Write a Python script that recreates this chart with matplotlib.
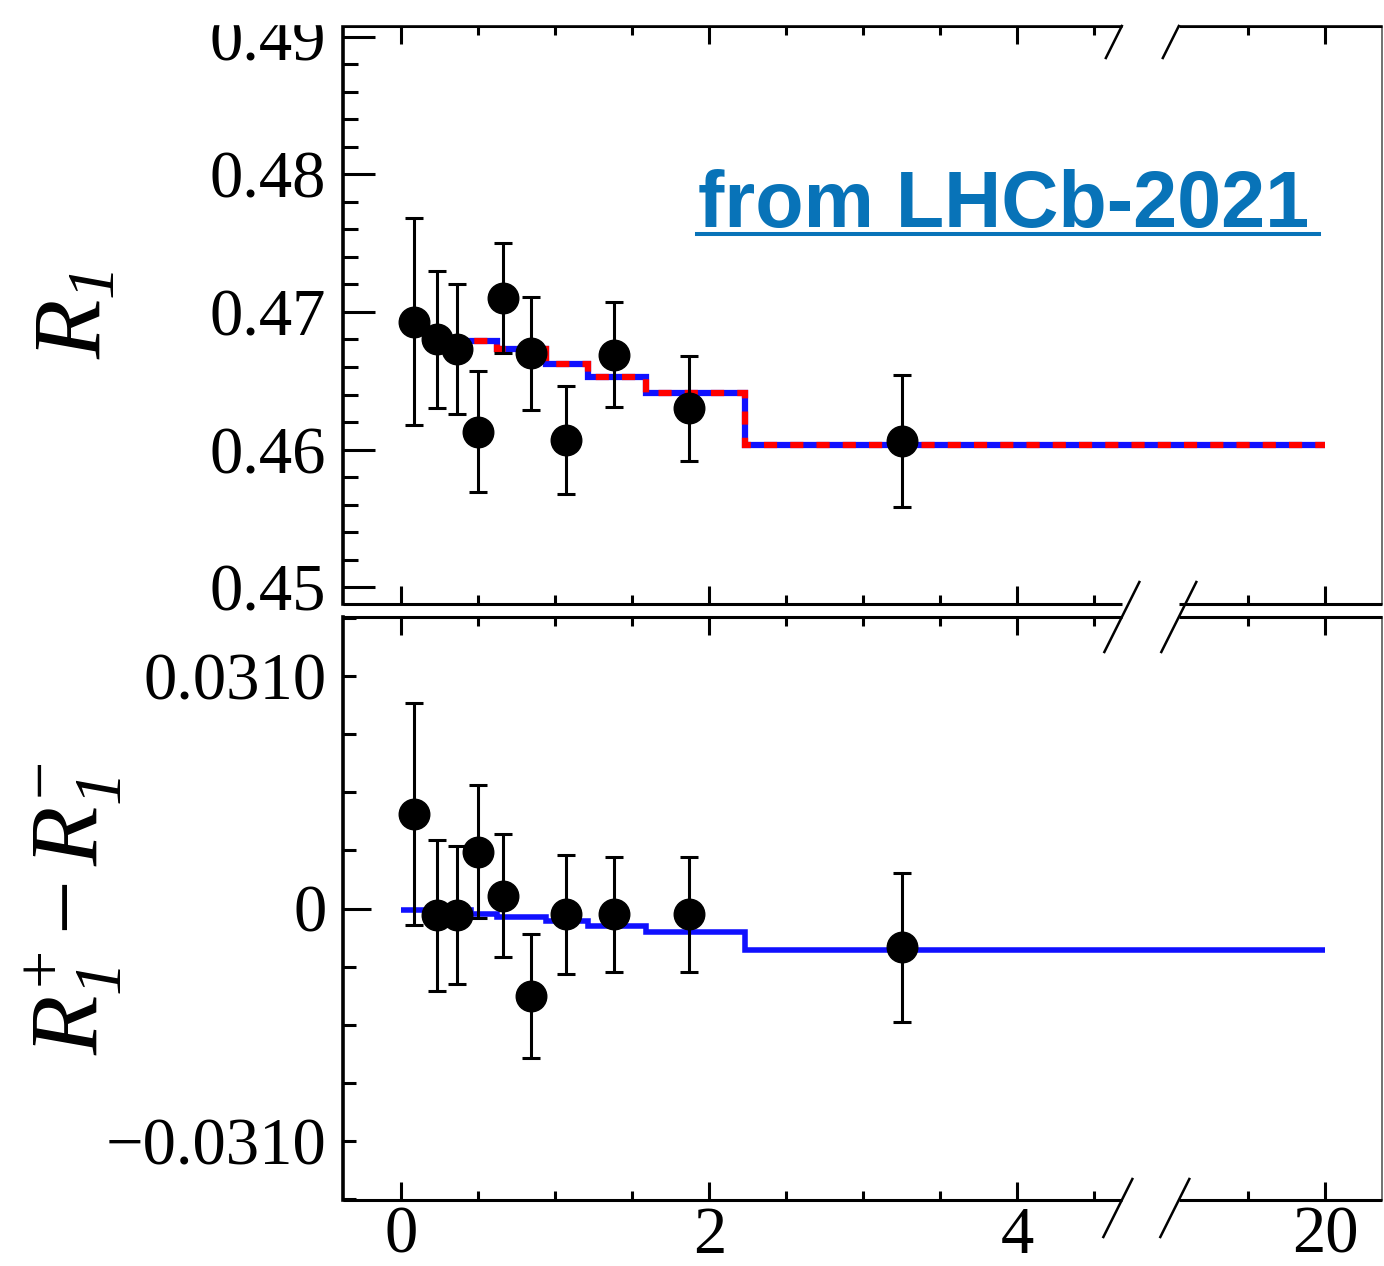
#!/usr/bin/env python
import numpy as np
import matplotlib
matplotlib.use('Agg')
import matplotlib.pyplot as plt
from matplotlib.ticker import FixedLocator, MultipleLocator, FixedFormatter
from matplotlib.lines import Line2D
from matplotlib.patches import Rectangle
from matplotlib.transforms import IdentityTransform

# measured points, q2 bins
q2 = [0.08, 0.23, 0.36, 0.50, 0.66, 0.84, 1.07, 1.38, 1.87, 3.25]
r1 = [0.4693, 0.4680, 0.4673, 0.4613, 0.4710, 0.4670, 0.4607, 0.4669, 0.4630, 0.4606]
r1_err = [0.0075, 0.0050, 0.0047, 0.0044, 0.0040, 0.0041, 0.0039, 0.0038, 0.0038, 0.0048]
dr1 = [0.0126, -0.0009, -0.0009, 0.0076, 0.0017, -0.0117, -0.0008, -0.0008, -0.0008, -0.0052]
dr1_err = [0.0148, 0.0101, 0.0092, 0.0089, 0.0082, 0.0083, 0.0080, 0.0077, 0.0077, 0.0099]

# model prediction (binned)
top_edges = [0.30, 0.62, 0.94, 1.21, 1.59, 2.23, 20.0]
top_model = [0.4679, 0.4673, 0.4662, 0.4653, 0.4641, 0.4603]
bot_edges = [0.0, 0.45, 0.62, 0.94, 1.21, 1.59, 2.23, 20.0]
bot_model = [-0.0002, -0.0008, -0.0012, -0.0017, -0.0024, -0.0032, -0.0055]

W, H = 1384, 1266
BRK_LO, BRK_HI = 4.68, 19.05   # axis break
BRK_W = 0.37                   # width of the break on the axis


def fwd(x):
    x = np.asarray(x, dtype=float)
    mid = BRK_LO + (x - BRK_LO) * BRK_W / (BRK_HI - BRK_LO)
    return np.where(x <= BRK_LO, x, np.where(x >= BRK_HI, x - (BRK_HI - BRK_LO) + BRK_W, mid))


def inv(d):
    d = np.asarray(d, dtype=float)
    mid = BRK_LO + (d - BRK_LO) * (BRK_HI - BRK_LO) / BRK_W
    return np.where(d <= BRK_LO, d, np.where(d >= BRK_LO + BRK_W, d + (BRK_HI - BRK_LO) - BRK_W, mid))


plt.rcParams['font.family'] = ['Liberation Serif', 'DejaVu Serif']
plt.rcParams['mathtext.fontset'] = 'custom'
plt.rcParams['mathtext.rm'] = 'Liberation Serif'
plt.rcParams['mathtext.it'] = 'Liberation Serif:italic'
# \mathsf is used for slanted digits in the subscripts
plt.rcParams['mathtext.sf'] = 'Liberation Serif:italic'

fig = plt.figure(figsize=(W / 100, H / 100), dpi=100)
ax_top = fig.add_axes([343 / W, 1 - 604 / H, (1382 - 343) / W, (604 - 26) / H])
ax_bot = fig.add_axes([343 / W, 1 - 1200 / H, (1382 - 343) / W, (1200 - 617) / H])

SPW = 2.2


def setup_x(ax):
    ax.set_xscale('function', functions=(fwd, inv))
    ax.set_xlim(-0.38, 20.37)
    ax.xaxis.set_major_locator(FixedLocator([0, 2, 4, 20]))
    minors = [m for m in np.arange(0.5, 4.6, 0.5) if m not in (2.0, 4.0)] + [19.5]
    ax.xaxis.set_minor_locator(FixedLocator(minors))
    ax.tick_params(axis='x', which='both', direction='in', top=True, bottom=True, width=SPW)
    ax.tick_params(axis='x', which='major', length=13)
    ax.tick_params(axis='x', which='minor', length=6.5)
    ax.spines['top'].set_visible(False)
    ax.spines['bottom'].set_visible(False)
    ax.spines['left'].set_linewidth(2.6)
    ax.spines['right'].set_linewidth(1.2)
    ax.spines['right'].set_color('0.35')
    # horizontal spines with the gap of the break
    tr = ax.get_xaxis_transform()
    for y in (0, 1):
        ax.plot([-0.38, BRK_LO], [y, y], color='k', lw=SPW, transform=tr,
                clip_on=False, solid_capstyle='butt', zorder=5)
        ax.plot([BRK_HI, 20.37], [y, y], color='k', lw=SPW, transform=tr,
                clip_on=False, solid_capstyle='butt', zorder=5)


setup_x(ax_top)
setup_x(ax_bot)
ax_top.tick_params(axis='x', labelbottom=False)
ax_bot.tick_params(axis='x', labelsize=48, pad=4)

# top panel: R_1
ax_top.set_ylim(0.44878, 0.49078)
ax_top.yaxis.set_major_locator(FixedLocator([0.45, 0.46, 0.47, 0.48, 0.49]))
ax_top.yaxis.set_major_formatter(FixedFormatter(['0.45', '0.46', '0.47', '0.48', '0.49']))
ax_top.yaxis.set_minor_locator(MultipleLocator(0.002))
ax_top.tick_params(axis='y', which='both', direction='in', width=SPW, labelsize=48, pad=12)
ax_top.tick_params(axis='y', which='major', length=23)
ax_top.tick_params(axis='y', which='minor', length=11)

ax_top.stairs(top_model, top_edges, baseline=None, color='#1010ff', lw=4.5, zorder=2)
ax_top.stairs(top_model, top_edges, baseline=None, color='#ff0000', lw=4.5, zorder=2.1,
              linestyle=(0, (2.1, 2.1)))
ax_top.errorbar(q2, r1, yerr=r1_err, fmt='o', color='black', ms=22, elinewidth=2.2,
                capsize=6.5, capthick=2.2, zorder=3)
ax_top.set_ylabel(r'$\mathit{R}_{\mathsf{1}}$', fontsize=70, va='center')
ax_top.yaxis.set_label_coords(-0.255, 0.5)

src = ax_top.text(0.3417, 0.6522, 'from LHCb-2021', transform=ax_top.transAxes,
                  fontsize=57, fontweight='bold', family='Liberation Sans',
                  color='#0873b8', ha='left', va='baseline', zorder=6)

# bottom panel: R_1^+ - R_1^-
ax_bot.set_ylim(-0.0389, 0.0389)
ax_bot.yaxis.set_major_locator(FixedLocator([-0.031, 0.0, 0.031]))
ax_bot.yaxis.set_major_formatter(FixedFormatter(['\u22120.0310', '0', '0.0310']))
ax_bot.yaxis.set_minor_locator(MultipleLocator(0.00775))
ax_bot.tick_params(axis='y', which='both', direction='in', width=SPW, length=9.4,
                   labelsize=48, pad=12)
ax_bot.yaxis.get_major_ticks()[1].tick1line.set_markersize(20)

ax_bot.stairs(bot_model, bot_edges, baseline=None, color='#1010ff', lw=4, zorder=2)
ax_bot.errorbar(q2, dr1, yerr=dr1_err, fmt='o', color='black', ms=22, elinewidth=2.2,
                capsize=6.5, capthick=2.2, zorder=3)
ax_bot.set_ylabel(r'$\mathit{R}^{+}_{\mathsf{1}} - \mathit{R}^{-}_{\mathsf{1}}$',
                  fontsize=70, va='center')
ax_bot.yaxis.set_label_coords(-0.259, 0.5)

# the canvas is clipped just above the upper frame
fig.add_artist(Rectangle((0, 1 - 24 / H), 1, 24 / H, transform=fig.transFigure,
                         color='white', zorder=20))

fig.canvas.draw()


def slash(ax, x, yfrac, up, down, slope=0.5):
    px, py = ax.get_xaxis_transform().transform((x, yfrac))
    fig.add_artist(Line2D([px - down * slope, px + up * slope], [py - down, py + up],
                          transform=IdentityTransform(), color='k', lw=1.8, zorder=21))


for xb in (BRK_LO, BRK_HI):
    slash(ax_bot, xb, 0, 21, 37)
    slash(ax_bot, xb, 1, 35, 35)
    slash(ax_top, xb, 1, 0, 32)

# underline the source note
bb = src.get_window_extent(fig.canvas.get_renderer())
ybase = ax_top.transAxes.transform((0.3417, 0.6522))[1]
fig.add_artist(Line2D([bb.x0 - 1, bb.x1 + 10], [ybase - 7, ybase - 7],
                      transform=IdentityTransform(), color='#0873b8', lw=2.9))

fig.savefig('out.png', dpi=100)
